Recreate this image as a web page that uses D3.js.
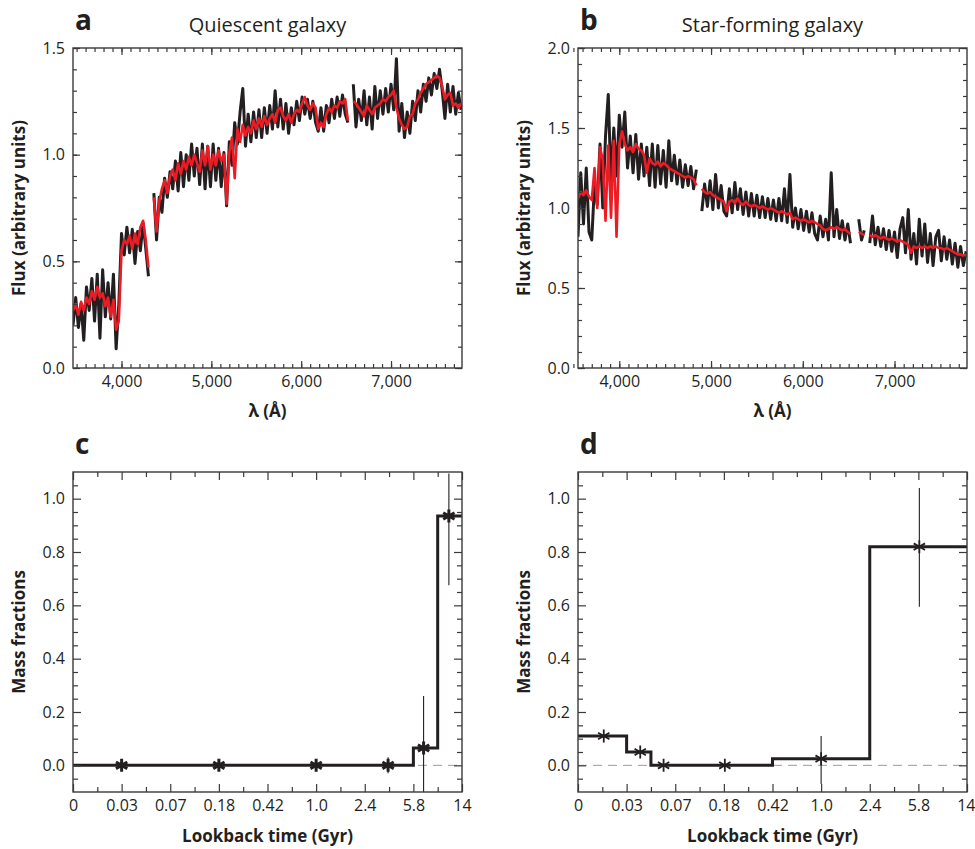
<!DOCTYPE html>
<html>
<head>
<meta charset="utf-8">
<title>Spectral fits and mass fractions</title>
<script src="https://cdn.jsdelivr.net/npm/d3@7/dist/d3.min.js"></script>
<style>
  body { margin: 0; background: #fff; }
  svg text { font-family: "Open Sans", "Noto Sans", sans-serif; fill: #231f20; }
  .lab { font-weight: 700; font-size: 17px; }
  .letter { font-weight: 700; font-size: 28px; }
  .title { font-size: 20px; }
</style>
</head>
<body>
<svg width="975" height="849"></svg>
<script>
// ---- data ----
// [wavelength (A), observed flux, model flux]; null = masked region
var specA = [
  [3460,0.20,0.27],[3490,0.33,0.30],[3520,0.19,0.25],[3550,0.30,0.31],[3580,0.13,0.27],
  [3610,0.38,0.33],[3640,0.27,0.30],[3670,0.42,0.36],[3700,0.22,0.32],[3730,0.44,0.38],
  [3760,0.14,0.33],[3790,0.46,0.35],[3820,0.24,0.29],[3850,0.40,0.33],[3880,0.23,0.24],
  [3910,0.44,0.32],[3940,0.09,0.18],[3970,0.30,0.22],[4000,0.63,0.55],[4030,0.53,0.60],
  [4060,0.66,0.58],[4090,0.54,0.62],[4120,0.65,0.56],[4150,0.49,0.63],[4180,0.64,0.58],
  [4210,0.55,0.66],[4240,0.68,0.69],[4270,0.56,0.60],[4300,0.43,0.47],[4330,null,null],
  [4360,0.82,0.80],[4390,0.60,0.64],[4420,0.80,0.78],[4450,0.73,0.84],[4480,0.89,0.88],
  [4510,0.80,0.82],[4540,0.92,0.90],[4570,0.84,0.93],[4600,0.97,0.88],[4630,0.83,0.96],
  [4660,1.01,0.91],[4690,0.85,0.97],[4720,1.00,0.93],[4750,0.88,0.99],[4780,1.05,0.95],
  [4810,0.90,1.00],[4840,1.03,0.96],[4870,0.86,0.92],[4900,1.05,1.02],[4930,0.84,0.95],
  [4960,1.04,1.04],[4990,0.85,0.93],[5020,1.05,1.00],[5050,0.88,0.95],[5080,1.03,1.02],
  [5110,0.85,0.97],[5140,1.01,1.00],[5170,0.76,0.77],[5200,1.06,1.01],[5230,0.95,1.08],
  [5260,1.15,0.89],[5290,1.05,1.12],[5320,1.20,1.06],[5350,1.31,1.14],[5380,1.04,1.09],
  [5410,1.19,1.13],[5440,1.06,1.10],[5470,1.20,1.16],[5500,1.08,1.12],[5530,1.21,1.17],
  [5560,1.08,1.13],[5590,1.22,1.18],[5620,1.10,1.14],[5650,1.23,1.17],[5680,1.12,1.19],
  [5710,1.30,1.15],[5740,1.13,1.21],[5770,1.26,1.22],[5800,1.12,1.18],[5830,1.24,1.16],
  [5860,1.10,1.19],[5890,1.22,1.15],[5920,1.14,1.19],[5950,1.25,1.21],[5980,1.16,1.20],
  [6010,1.27,1.24],[6040,1.19,1.27],[6070,1.26,1.23],[6100,1.17,1.21],[6130,1.25,1.24],
  [6160,1.15,1.22],[6190,1.11,1.12],[6220,1.22,1.15],[6250,1.11,1.13],[6280,1.23,1.19],
  [6310,1.15,1.22],[6340,1.26,1.20],[6370,1.17,1.23],[6400,1.27,1.22],[6430,1.18,1.25],
  [6460,1.28,1.24],[6490,1.19,1.26],[6520,1.15,1.16],[6550,null,null],[6580,1.33,1.25],
  [6610,1.13,1.24],[6640,1.26,1.22],[6670,1.16,1.20],[6700,1.30,1.18],[6730,1.14,1.23],
  [6760,1.27,1.21],[6790,1.12,1.19],[6820,1.32,1.22],[6850,1.17,1.23],[6880,1.30,1.24],
  [6910,1.19,1.26],[6940,1.31,1.25],[6970,1.20,1.27],[7000,1.33,1.28],[7030,1.21,1.30],
  [7060,1.45,1.22],[7090,1.11,1.17],[7120,1.24,1.14],[7150,1.08,1.12],[7180,1.20,1.13],
  [7210,1.10,1.18],[7240,1.25,1.19],[7270,1.16,1.24],[7300,1.30,1.26],[7330,1.20,1.29],
  [7360,1.33,1.31],[7390,1.25,1.33],[7420,1.36,1.34],[7450,1.28,1.35],[7480,1.38,1.36],
  [7510,1.31,1.37],[7540,1.40,1.36],[7570,1.30,1.32],[7600,1.17,1.26],[7630,1.33,1.28],
  [7660,1.20,1.29],[7690,1.32,1.23],[7720,1.19,1.24],[7750,1.29,1.22],[7780,1.21,1.24]
];

var specB = [
  [3550,0.82,1.06],[3580,1.22,1.10],[3610,0.90,1.08],[3640,1.25,1.11],[3670,0.85,1.07],
  [3700,0.80,1.05],[3730,1.15,1.25],[3760,1.02,1.00],[3790,1.40,1.38],[3820,1.00,1.30],
  [3850,1.45,0.92],[3880,1.71,1.39],[3910,1.15,0.94],[3940,1.50,1.42],[3970,1.20,0.82],
  [4000,1.58,1.40],[4030,1.38,1.48],[4060,1.60,1.40],[4090,1.25,1.36],[4120,1.45,1.38],
  [4150,1.22,1.35],[4180,1.46,1.40],[4210,1.18,1.37],[4240,1.40,1.36],[4270,1.20,1.33],
  [4300,1.38,1.22],[4330,1.14,1.31],[4360,1.40,1.28],[4390,1.13,1.27],[4420,1.39,1.29],
  [4450,1.15,1.26],[4480,1.36,1.28],[4510,1.13,1.27],[4540,1.42,1.25],[4570,1.17,1.24],
  [4600,1.33,1.23],[4630,1.15,1.22],[4660,1.30,1.21],[4690,1.13,1.20],[4720,1.27,1.19],
  [4750,1.14,1.20],[4780,1.26,1.19],[4810,1.12,1.18],[4840,1.24,1.14],[4870,null,null],
  [4900,0.98,1.12],[4930,1.15,1.10],[4960,1.01,1.09],[4990,1.17,1.10],[5020,0.99,1.08],
  [5050,1.21,1.07],[5080,1.00,1.06],[5110,1.14,1.05],[5140,0.98,1.04],[5170,0.95,0.98],
  [5200,1.12,1.04],[5230,0.97,1.05],[5260,1.16,1.03],[5290,0.99,1.06],[5320,1.12,1.03],
  [5350,0.96,1.02],[5380,1.10,1.04],[5410,0.95,1.02],[5440,1.09,1.01],[5470,0.95,1.02],
  [5500,1.08,1.01],[5530,0.94,1.00],[5560,1.07,1.01],[5590,0.94,1.00],[5620,1.06,0.99],
  [5650,0.93,1.00],[5680,1.05,0.99],[5710,0.92,0.98],[5740,1.06,0.97],[5770,0.92,0.98],
  [5800,1.12,0.97],[5830,0.91,0.96],[5860,1.21,0.97],[5890,0.88,0.93],[5920,1.00,0.94],
  [5950,0.87,0.93],[5980,0.99,0.92],[6010,0.86,0.93],[6040,0.98,0.92],[6070,0.85,0.91],
  [6100,0.97,0.92],[6130,0.84,0.91],[6160,0.80,0.90],[6190,0.95,0.89],[6220,0.82,0.87],
  [6250,0.93,0.86],[6280,0.80,0.87],[6310,1.22,0.88],[6340,0.82,0.87],[6370,0.99,0.88],
  [6400,0.81,0.87],[6430,0.92,0.86],[6460,0.80,0.87],[6490,0.90,0.85],[6520,0.78,0.84],
  [6550,null,null],[6580,null,null],[6610,0.93,0.85],[6640,0.80,0.84],[6670,0.86,0.83],
  [6700,null,null],[6730,0.78,0.83],[6760,0.95,0.82],[6790,0.77,0.83],[6820,0.88,0.82],
  [6850,0.76,0.81],[6880,0.87,0.82],[6910,0.74,0.81],[6940,0.86,0.80],[6970,0.73,0.81],
  [7000,0.85,0.80],[7030,0.69,0.79],[7060,0.87,0.80],[7090,0.94,0.79],[7120,0.72,0.78],
  [7150,0.99,0.77],[7180,0.68,0.72],[7210,0.84,0.76],[7240,0.65,0.75],[7270,0.93,0.76],
  [7300,0.70,0.75],[7330,0.90,0.76],[7360,0.66,0.75],[7390,0.84,0.76],[7420,0.64,0.75],
  [7450,0.82,0.76],[7480,0.86,0.75],[7510,0.67,0.75],[7540,0.82,0.74],[7570,0.68,0.75],
  [7600,0.80,0.74],[7630,0.65,0.73],[7660,0.78,0.72],[7690,0.63,0.71],[7720,0.76,0.71],
  [7750,0.64,0.70],[7780,0.73,0.71]
];

// lookback-time bin edges (tick labels), evenly spaced on the axis
var ageLabels = ["0", "0.03", "0.07", "0.18", "0.42", "1.0", "2.4", "5.8", "14"];

// panel c: step histogram + points with error bars (x in bin-index units)
var stepEdgesC = [0, 7, 7.5, 8];
var stepValsC = [0, 0.065, 0.935];
var ptsXC = [1.0, 3.0, 5.0, 6.48, 7.21, 7.73];
var ptsYC = [0, 0, 0, 0, 0.065, 0.935];
var errLoC = [null, null, null, -0.03, -0.1, 0.675];
var errHiC = [null, null, null, 0.03, 0.26, 1.094];

// panel d
var stepEdgesD = [0, 1, 1.5, 4, 6, 8];
var stepValsD = [0.11, 0.05, 0, 0.025, 0.82];
var ptsXD = [0.53, 1.28, 1.76, 3.02, 5.0, 7.02];
var ptsYD = [0.11, 0.05, 0, 0, 0.025, 0.82];
var errLoD = [null, null, null, null, -0.07, 0.595];
var errHiD = [null, null, null, null, 0.11, 1.04];

var svg = d3.select("svg");
var frameColor = "#3a3a3a";

// draw inward ticks on all four sides of a frame
function addAxes(g, x, y, w, h, o) {
  var sides = [
    [d3.axisBottom(x), "translate(0," + h + ")", o.xMajor, o.xMinor, o.xFmt],
    [d3.axisTop(x), null, o.xMajor, o.xMinor, null],
    [d3.axisLeft(y), null, o.yMajor, o.yMinor, o.yFmt],
    [d3.axisRight(y), "translate(" + w + ",0)", o.yMajor, o.yMinor, null]
  ];
  sides.forEach(function(s) {
    var gm = g.append("g");
    if (s[1]) gm.attr("transform", s[1]);
    gm.call(s[0].tickValues(s[3]).tickSize(-o.minor).tickFormat(""));
    var gM = g.append("g").attr("class", "major");
    if (s[1]) gM.attr("transform", s[1]);
    gM.call(s[0].tickValues(s[2]).tickSize(-o.major).tickPadding(8)
                .tickFormat(s[4] ? s[4] : ""));
    gM.attr("font-size", 16).attr("font-family", null);
  });
  g.selectAll(".domain").remove();
  g.selectAll(".tick line").attr("stroke", frameColor).attr("stroke-width", 1.2);

  g.append("rect")
   .attr("width", w).attr("height", h)
   .attr("fill", "none")
   .attr("stroke", frameColor)
   .attr("stroke-width", 1.4);
}

function addLabels(g, w, h, letter, title, xlab, ylab, xlabY) {
  g.append("text").attr("class", "letter")
   .attr("x", 2).attr("y", -18).text(letter);
  if (title) {
    g.append("text").attr("class", "title")
     .attr("x", w / 2).attr("y", -16)
     .attr("text-anchor", "middle").text(title);
  }
  g.append("text").attr("class", "lab")
   .attr("x", w / 2).attr("y", h + xlabY)
   .attr("text-anchor", "middle").text(xlab);
  g.append("text").attr("class", "lab")
   .attr("transform", "translate(-48," + (h / 2) + ") rotate(-90)")
   .attr("text-anchor", "middle").text(ylab);
}

// ---- spectrum panels ----
function spectrumPanel(left, top, spec, xDom, yMax, letter, title, id) {
  var w = 389, h = 320;
  var g = svg.append("g").attr("transform", "translate(" + left + "," + top + ")");
  var x = d3.scaleLinear().domain(xDom).range([0, w]);
  var y = d3.scaleLinear().domain([0, yMax]).range([h, 0]);

  g.append("clipPath").attr("id", id)
   .append("rect").attr("width", w).attr("height", h);

  var obs = d3.line()
    .defined(function(d) { return d[1] != null; })
    .x(function(d) { return x(d[0]); })
    .y(function(d) { return y(d[1]); });
  var mod = d3.line()
    .defined(function(d) { return d[2] != null; })
    .x(function(d) { return x(d[0]); })
    .y(function(d) { return y(d[2]); });

  var pg = g.append("g").attr("clip-path", "url(#" + id + ")");
  pg.append("path").datum(spec)
    .attr("d", obs).attr("fill", "none")
    .attr("stroke", "#231f20").attr("stroke-width", 3)
    .attr("stroke-linejoin", "round");
  pg.append("path").datum(spec)
    .attr("d", mod).attr("fill", "none")
    .attr("stroke", "#ed1c24").attr("stroke-width", 2.6)
    .attr("stroke-linejoin", "round");

  addAxes(g, x, y, w, h, {
    xMajor: [4000, 5000, 6000, 7000],
    xMinor: d3.range(3500, 7800, 100),
    yMajor: d3.range(0, yMax + 0.01, 0.5),
    yMinor: d3.range(0, yMax + 0.01, 0.1),
    xFmt: d3.format(","),
    yFmt: d3.format(".1f"),
    major: 7, minor: 4
  });
  addLabels(g, w, h, letter, title, "λ (Å)", "Flux (arbitrary units)", 49);
}

spectrumPanel(73, 48, specA, [3460, 7790], 1.5, "a", "Quiescent galaxy", "clipA");
spectrumPanel(578, 48, specB, [3550, 7790], 2.0, "b", "Star-forming galaxy", "clipB");

// ---- mass fraction panels ----
function massPanel(left, top, edges, vals, px, py, lo, hi, letter, markW) {
  var w = 389, h = 320;
  var g = svg.append("g").attr("transform", "translate(" + left + "," + top + ")");
  var x = d3.scaleLinear().domain([0, 8]).range([0, w]);
  var y = d3.scaleLinear().domain([-0.1, 1.1]).range([h, 0]);

  // zero line
  g.append("line")
   .attr("x1", 0).attr("x2", w)
   .attr("y1", y(0)).attr("y2", y(0))
   .attr("stroke", "#9a9a9a").attr("stroke-width", 1)
   .attr("stroke-dasharray", "9,6");

  // step histogram
  var steps = edges.map(function(e, i) { return [e, vals[Math.min(i, vals.length - 1)]]; });
  g.append("path").datum(steps)
   .attr("d", d3.line().curve(d3.curveStepAfter)
           .x(function(d) { return x(d[0]); })
           .y(function(d) { return y(d[1]); }))
   .attr("fill", "none").attr("stroke", "#231f20").attr("stroke-width", 3);

  // error bars
  var idx = d3.range(px.length).filter(function(i) { return lo[i] != null; });
  g.selectAll(".err").data(idx).enter().append("line")
   .attr("class", "err")
   .attr("x1", function(i) { return x(px[i]); })
   .attr("x2", function(i) { return x(px[i]); })
   .attr("y1", function(i) { return y(lo[i]); })
   .attr("y2", function(i) { return y(hi[i]); })
   .attr("stroke", "#231f20").attr("stroke-width", 1.1);

  // asterisk markers
  g.selectAll(".pt").data(d3.range(px.length)).enter().append("path")
   .attr("class", "pt")
   .attr("transform", function(i) { return "translate(" + x(px[i]) + "," + y(py[i]) + ")"; })
   .attr("d", d3.symbol().type(d3.symbolAsterisk).size(120))
   .attr("fill", "none").attr("stroke", "#231f20").attr("stroke-width", markW);

  addAxes(g, x, y, w, h, {
    xMajor: d3.range(0, 9),
    xMinor: d3.range(0.5, 8, 1),
    yMajor: [0, 0.2, 0.4, 0.6, 0.8, 1.0],
    yMinor: [-0.05, 0.05, 0.1, 0.15, 0.25, 0.3, 0.35, 0.45, 0.5, 0.55, 0.65, 0.7, 0.75, 0.85, 0.9, 0.95, 1.05],
    xFmt: function(i) { return ageLabels[i]; },
    yFmt: d3.format(".1f"),
    major: 8, minor: 5
  });
  addLabels(g, w, h, letter, null, "Lookback time (Gyr)", "Mass fractions", 50);
  return g;
}

massPanel(73, 472, stepEdgesC, stepValsC, ptsXC, ptsYC, errLoC, errHiC, "c", 3);
var gd = massPanel(578, 472, stepEdgesD, stepValsD, ptsXD, ptsYD, errLoD, errHiD, "d", 1.8);

// keep the last tick label of panel d inside the window
gd.selectAll(".major .tick text")
  .filter(function(d) { return d === 8; })
  .attr("text-anchor", "end").attr("dx", "0.5em");
</script>
</body>
</html>
